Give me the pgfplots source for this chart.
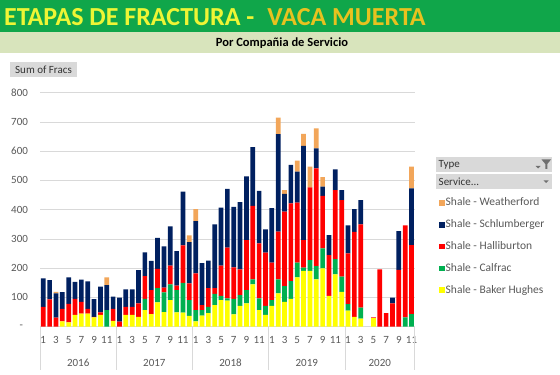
\documentclass[border=0pt]{standalone}
\usepackage{fontspec}
\setmainfont{Carlito}
\usepackage{pgfplots}
\pgfplotsset{compat=1.18}
\usepackage{pgfplotstable}
\definecolor{hdrgreen}{HTML}{10A64A}
\definecolor{band}{HTML}{D8E4BC}
\definecolor{tyellow}{HTML}{EEF535}
\definecolor{tgold}{HTML}{E8C21F}
\definecolor{btngray}{HTML}{D9D9D9}
\definecolor{gridcol}{HTML}{D9D9D9}
\definecolor{ticktext}{HTML}{595959}
\definecolor{icongray}{HTML}{707070}
\definecolor{cora}{HTML}{F2A65A}
\definecolor{cnavy}{HTML}{002060}
\definecolor{cred}{HTML}{FF0000}
\definecolor{cgreen}{HTML}{00B050}
\definecolor{cyel}{HTML}{FFFF00}
\newcommand\axfont{\fontsize{11}{13}\selectfont}

\pgfplotstableread{
i Y C H S W
0 0 0 68 97 0
1 0 0 93 66 0
2 0 0 31 83 5
3 18 0 43 57 0
4 15 0 63 91 0
5 40 0 55 58 0
6 45 0 40 76 0
7 45 0 16 94 0
8 32 0 2 60 0
9 40 0 9 88 0
10 0 57 0 85 27
11 20 0 41 42 0
12 0 0 17 82 0
13 40 0 28 60 0
14 40 0 28 60 0
15 34 0 46 113 0
16 57 38 78 81 0
17 43 0 82 100 0
18 83 49 66 106 0
19 50 67 17 141 0
20 91 54 64 134 0
21 49 76 15 118 0
22 48 102 128 184 0
23 37 54 57 141 23
24 18 39 125 179 41
25 38 19 17 143 0
26 46 22 64 94 0
27 74 38 20 218 0
28 91 14 104 198 0
29 89 8 173 201 0
30 42 53 108 207 0
31 71 37 88 230 0
32 80 45 171 218 0
33 145 17 251 201 0
34 57 40 188 179 0
35 40 31 182 80 0
36 71 20 128 186 0
37 114 48 163 333 57
38 85 54 254 61 13
39 95 61 266 131 0
40 169 50 205 106 38
41 191 11 94 322 41
42 191 37 248 0 71
43 162 45 334 69 68
44 199 69 179 32 32
45 105 0 140 68 0
46 179 52 236 71 0
47 119 52 262 34 0
48 55 22 174 95 0
49 34 0 290 78 0
50 28 37 285 83 0
51 0 0 0 0 0
52 29 0 3 0 0
53 0 0 196 0 0
54 0 0 46 0 0
55 0 0 80 19 0
56 0 0 194 133 0
57 0 32 314 0 0
58 0 43 236 194 74
}\data

\begin{document}
\begin{tikzpicture}
\path[use as bounding box] (0,0) rectangle (560pt,375pt);
\fill[white] (0,0) rectangle (560pt,375pt);
\fill[hdrgreen] (0,342.5pt) rectangle (560pt,375pt);
\fill[band] (0,322pt) rectangle (560pt,342.5pt);
\node[anchor=base west, inner sep=0pt, font=\fontsize{26}{26}\selectfont\bfseries] at (4pt,349pt)
  {\textcolor{tyellow}{ETAPAS DE FRACTURA -}\hspace{0.5em}\textcolor{tgold}{VACA MUERTA}};
\node[anchor=base, inner sep=0pt, font=\fontsize{12.5}{13}\selectfont\bfseries] at (282pt,328.3pt) {Por Compañia de Servicio};
\node[fill=btngray, minimum width=67pt, minimum height=15pt, inner sep=0pt, font=\axfont, text=black!80] at (43.5pt,305.5pt) {Sum of Fracs};

\begin{axis}[
  at={(40.1pt,48.3pt)}, anchor=south west,
  scale only axis, width=374.6pt, height=234pt,
  ybar stacked, bar width=4.7pt,
  xmin=-0.5, xmax=58.5, ymin=0, ymax=800,
  axis line style={draw=none},
  major tick length=0pt,
  ymajorgrids, grid style={gridcol, line width=0.6pt},
  ytick={0,100,...,800},
  yticklabels={-\hspace*{5pt},100,200,300,400,500,600,700,800},
  xtick={0,2,...,58},
  xticklabels={1,3,5,7,9,11,1,3,5,7,9,11,1,3,5,7,9,11,1,3,5,7,9,11,1,3,5,7,9,11},
  tick label style={font=\axfont, text=ticktext},
  yticklabel style={anchor=east, inner sep=0pt, xshift=-12pt},
  xticklabel style={anchor=center, inner sep=0pt, yshift=-13.3pt},
  /pgf/number format/assume math mode=true,
  clip=false,
  reverse legend,
  legend style={at={(rel axis cs:1.0649,0.5577)}, anchor=north west, draw=none, fill=none,
    font=\fontsize{11.5}{12}\selectfont, text=ticktext, inner sep=0pt, row sep=8.8pt,
    cells={anchor=west},
    nodes={inner sep=1pt, text height=8.5pt, text depth=2.5pt}},
  legend image code/.code={\fill[#1] (0pt,-2.8pt) rectangle (5.5pt,2.8pt);},
]
\addplot[fill=cyel, draw=none] table[x=i,y=Y]{\data};
\addlegendentry{Shale - Baker Hughes}
\addplot[fill=cgreen, draw=none] table[x=i,y=C]{\data};
\addlegendentry{Shale - Calfrac}
\addplot[fill=cred, draw=none] table[x=i,y=H]{\data};
\addlegendentry{Shale - Halliburton}
\addplot[fill=cnavy, draw=none] table[x=i,y=S]{\data};
\addlegendentry{Shale - Schlumberger}
\addplot[fill=cora, draw=none] table[x=i,y=W]{\data};
\addlegendentry{Shale - Weatherford}
\draw[gridcol, line width=0.6pt] (axis cs:-0.5,0) -- ++(0pt,-43pt);
\draw[gridcol, line width=0.6pt] (axis cs:11.5,0) -- ++(0pt,-43pt);
\draw[gridcol, line width=0.6pt] (axis cs:23.5,0) -- ++(0pt,-43pt);
\draw[gridcol, line width=0.6pt] (axis cs:35.5,0) -- ++(0pt,-43pt);
\draw[gridcol, line width=0.6pt] (axis cs:47.5,0) -- ++(0pt,-43pt);
\draw[gridcol, line width=0.6pt] (axis cs:58.5,0) -- ++(0pt,-43pt);
\node[font=\axfont, text=ticktext] at (axis cs:5.5,0) [yshift=-36.3pt] {2016};
\node[font=\axfont, text=ticktext] at (axis cs:17.5,0) [yshift=-36.3pt] {2017};
\node[font=\axfont, text=ticktext] at (axis cs:29.5,0) [yshift=-36.3pt] {2018};
\node[font=\axfont, text=ticktext] at (axis cs:41.5,0) [yshift=-36.3pt] {2019};
\node[font=\axfont, text=ticktext] at (axis cs:53,0) [yshift=-36.3pt] {2020};
\end{axis}

\fill[btngray] (436pt,203pt) rectangle (552pt,218pt);
\node[anchor=west, inner sep=0pt, font=\axfont, text=black!80] at (438.5pt,210.5pt) {Type};
\fill[icongray] (535.5pt,209pt) -- (540.5pt,209pt) -- (538pt,206.5pt) -- cycle;
\fill[icongray] (541.5pt,215.5pt) -- (551pt,215.5pt) -- (547.3pt,211pt) -- (547.3pt,206pt) -- (545.3pt,206pt) -- (545.3pt,211pt) -- cycle;
\fill[btngray] (436pt,186pt) rectangle (552pt,201pt);
\node[anchor=west, inner sep=0pt, font=\axfont, text=black!80] at (438.5pt,193.5pt) {Service...};
\fill[icongray] (543.5pt,194.5pt) -- (548.5pt,194.5pt) -- (546pt,192pt) -- cycle;
\end{tikzpicture}
\end{document}
